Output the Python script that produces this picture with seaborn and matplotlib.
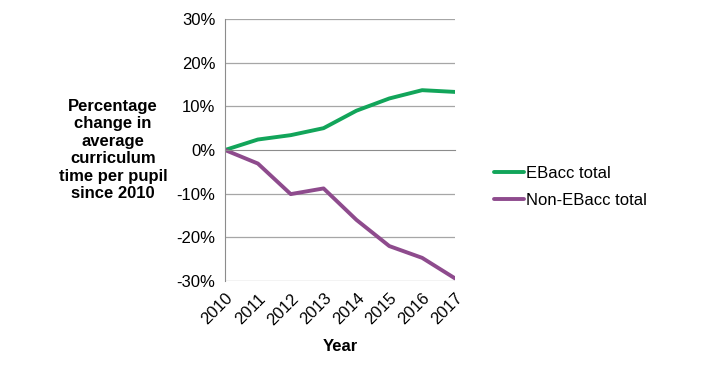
import pandas as pd
import matplotlib
matplotlib.use('Agg')
import matplotlib.pyplot as plt
import seaborn as sns

# Values (percentage change since 2010)
years = [2010, 2011, 2012, 2013, 2014, 2015, 2016, 2017]
ebacc_total = [0.0, 2.4, 3.4, 5.0, 9.0, 11.8, 13.7, 13.3]
non_ebacc_total = [0.0, -3.1, -10.1, -8.8, -16.0, -22.0, -24.7, -29.4]
series_names = ['EBacc total', 'Non-EBacc total']
y_ticks = [-30, -20, -10, 0, 10, 20, 30]

df = pd.DataFrame({
    'Year': years * 2,
    'Change': ebacc_total + non_ebacc_total,
    'Series': [series_names[0]] * len(years) + [series_names[1]] * len(years),
})

sns.set_style('white')
plt.rcParams['font.family'] = ['Liberation Sans', 'DejaVu Sans']
plt.rcParams['text.color'] = 'black'
plt.rcParams['xtick.color'] = 'black'
plt.rcParams['ytick.color'] = 'black'
plt.rcParams['axes.labelcolor'] = 'black'

fig = plt.figure(figsize=(7.16, 3.71), dpi=100)
ax = fig.add_axes([225 / 716, 1 - 281 / 371, 230 / 716, 262 / 371])

palette = {'EBacc total': '#12a55a', 'Non-EBacc total': '#8e4b8d'}
sns.lineplot(data=df, x='Year', y='Change', hue='Series', palette=palette,
             linewidth=2.8, ax=ax, legend=True)

ax.set_xlim(2010, 2017)
ax.set_ylim(-30, 30)
ax.set_yticks(y_ticks)
ax.set_yticklabels([f'{t}%' for t in y_ticks], fontsize=12)
for t in y_ticks:
    if t != 0:
        ax.axhline(t, color='#a6a6a6', linewidth=0.9, zorder=0)

# x axis line sits at 0%
for s in ['top', 'right']:
    ax.spines[s].set_visible(False)
ax.spines['left'].set_color('#8c8c8c')
ax.spines['bottom'].set_position(('data', 0))
ax.spines['bottom'].set_color('#8c8c8c')
ax.set_xticks(years)
ax.tick_params(axis='x', direction='out', length=5, color='#8c8c8c', labelbottom=False)
ax.tick_params(axis='y', direction='out', length=5, color='#8c8c8c', labelsize=12, pad=2)

# year labels at the bottom of the plot
sec = ax.secondary_xaxis('bottom')
sec.set_xticks(years)
sec.set_xticklabels([str(y) for y in years], rotation=45, ha='right',
                    rotation_mode='anchor', fontsize=12)
sec.tick_params(length=0, pad=7)
sec.spines['bottom'].set_visible(False)
sec.set_xlabel('Year', fontsize=12, fontweight='bold', labelpad=8)

ax.set_xlabel('')
ax.set_ylabel('Percentage\nchange in\naverage\ncurriculum\ntime per pupil\nsince 2010',
              rotation=0, fontsize=12, fontweight='bold', ha='center', va='center',
              linespacing=1.2)
ax.yaxis.set_label_coords(-0.487, 0.5)

handles, labels = ax.get_legend_handles_labels()
ax.legend(handles, labels, loc='center left', bbox_to_anchor=(479 / 716, 1 - 187 / 371),
          bbox_transform=fig.transFigure, frameon=False, fontsize=12,
          handlelength=1.8, handletextpad=0.1, labelspacing=0.7)

fig.savefig('out.png', dpi=100)
